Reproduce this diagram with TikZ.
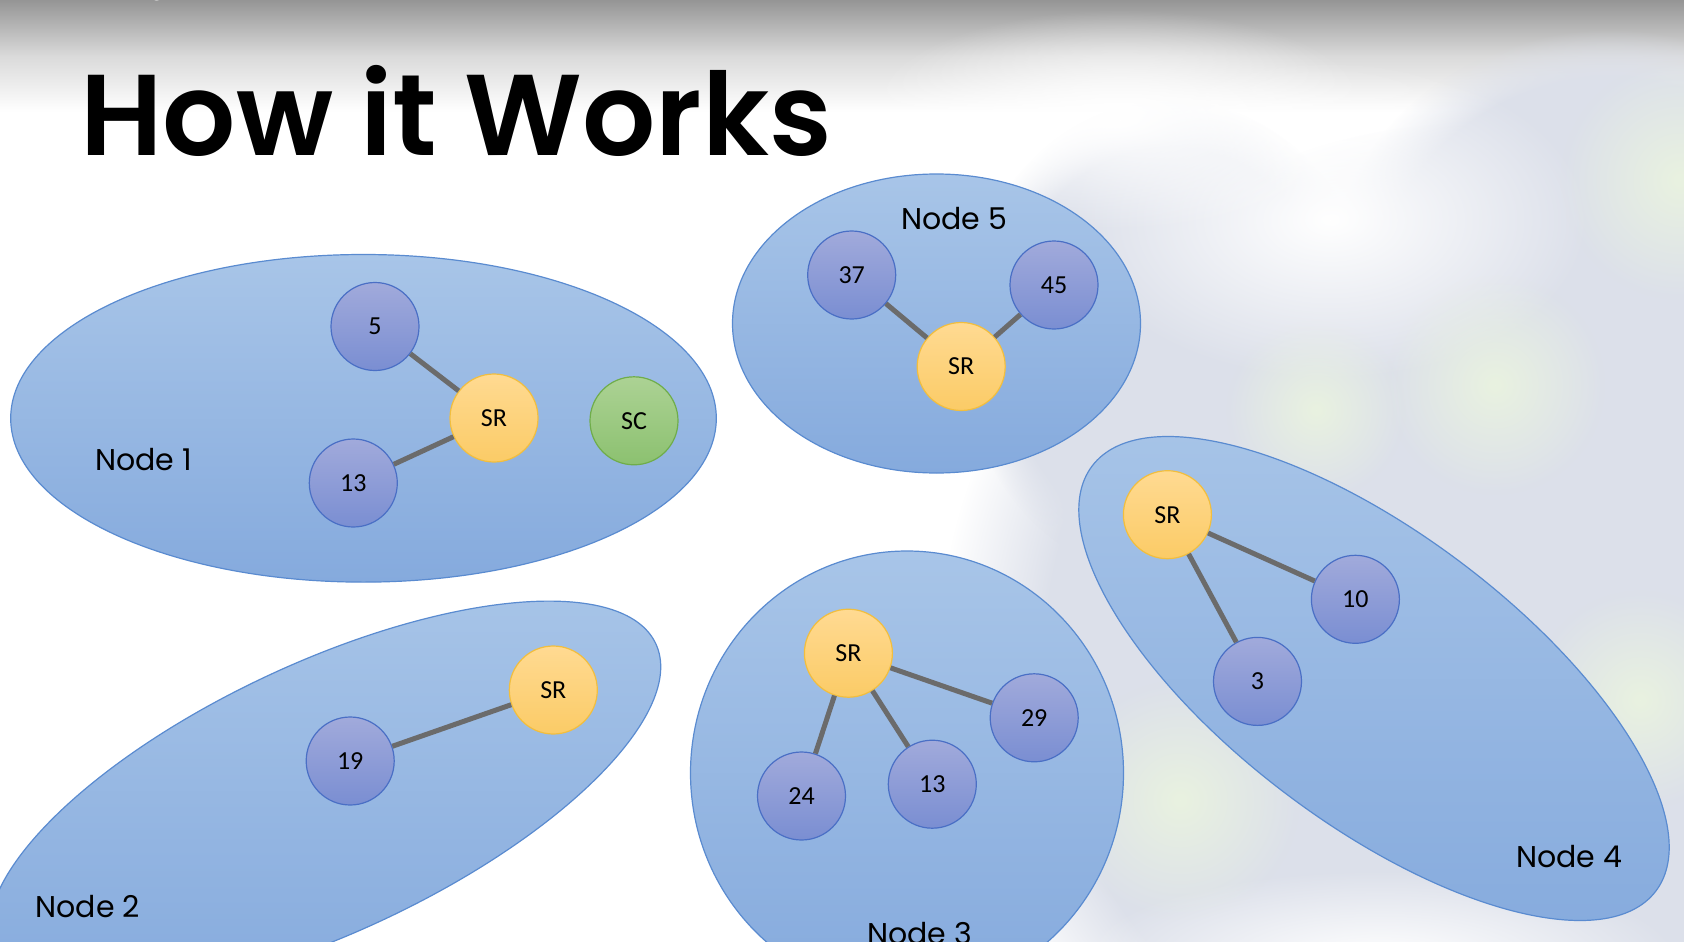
\documentclass[tikz,border=0pt]{standalone}
\usepackage{fontspec}
\usetikzlibrary{shapes.geometric,fadings}
\newfontfamily\titlefont{Poppins}
\newfontfamily\headfont{Poppins SemiBold}
\newfontfamily\calibrifont{Carlito}

\definecolor{grptop}{HTML}{A8C5E8}
\definecolor{grpbot}{HTML}{85AADD}
\definecolor{grpline}{HTML}{5A8BD0}
\definecolor{numtop}{HTML}{A1AADB}
\definecolor{numbot}{HTML}{7A8ED2}
\definecolor{numline}{HTML}{4A6FC5}
\definecolor{srtop}{HTML}{FFDA92}
\definecolor{srbot}{HTML}{FBCB66}
\definecolor{srline}{HTML}{F2BE3E}
\definecolor{sctop}{HTML}{ACD294}
\definecolor{scbot}{HTML}{8CC170}
\definecolor{scline}{HTML}{6FAD4A}
\definecolor{linkgray}{HTML}{6B6B6B}
\definecolor{haze}{HTML}{DCE0EA}
\definecolor{palegreen}{HTML}{E9F2E0}
\definecolor{bandgray}{HTML}{959595}

\tikzfading[name=softblob, inner color=transparent!0, outer color=transparent!100]

\tikzset{
  grp/.style={ellipse, inner sep=0pt, draw=grpline, line width=1.2pt,
    top color=grptop, bottom color=grpbot},
  num/.style={circle, minimum size=88pt, inner sep=0pt, draw=numline,
    line width=1.2pt, top color=numtop, bottom color=numbot,
    font=\calibrifont\fontsize{26}{26}\selectfont},
  sr/.style={num, draw=srline, top color=srtop, bottom color=srbot},
  sc/.style={num, draw=scline, top color=sctop, bottom color=scbot},
  link/.style={draw=linkgray, line width=5pt},
  grplabel/.style={anchor=base west, inner sep=0pt,
    font=\titlefont\fontsize{30}{30}\selectfont},
}

\begin{document}
\begin{tikzpicture}[x=1pt,y=-1pt]
\useasboundingbox (0,0) rectangle (1684,942);
\clip (0,0) rectangle (1684,942);
\fill[white] (0,0) rectangle (1684,942);

% grey band along the top edge
\shade[top color=bandgray, bottom color=white, middle color=bandgray!35] (0,0) rectangle (1684,112);

% blurred backdrop on the right
\fill[haze, path fading=circle with fuzzy edge 20 percent] (1480,660) ellipse [x radius=540pt, y radius=540pt];
\fill[haze, path fading=circle with fuzzy edge 20 percent] (1170,340) ellipse [x radius=210pt, y radius=240pt];
\fill[haze, path fading=circle with fuzzy edge 20 percent] (1610,280) ellipse [x radius=280pt, y radius=250pt];
\fill[white, path fading=softblob] (1330,220) ellipse [x radius=260pt, y radius=160pt];
\fill[white, path fading=softblob] (1120,120) ellipse [x radius=260pt, y radius=110pt];
\fill[white, path fading=softblob] (1380,960) ellipse [x radius=300pt, y radius=90pt];
\fill[palegreen, path fading=softblob] (1495,385) circle (110pt);
\fill[palegreen, path fading=softblob] (1316,410) circle (90pt);
\fill[palegreen, path fading=softblob] (1680,180) circle (120pt);
\fill[palegreen, path fading=softblob] (1180,800) circle (120pt);
\fill[palegreen, path fading=softblob] (1640,700) circle (110pt);

\node[anchor=base, inner sep=0pt, text=white, font=\titlefont\fontsize{20}{20}\selectfont] (cut) at (157,-4) {g};

% title
\node[anchor=base west, inner sep=0pt, font=\headfont\fontsize{115}{115}\selectfont] (title) at (80,155.7) {How it Works};

% machine groups
\node[grp, minimum width=705.6pt, minimum height=327.6pt] (n1) at (363.5,418.3) {};
\node[grp, minimum width=408pt, minimum height=299pt] (n5) at (936.5,323.5) {};
\node[grp, minimum width=730pt, minimum height=270pt, rotate=25] (n2) at (325,798) {};
\node[grp, minimum width=433pt, minimum height=444pt] (n3) at (907,773) {};
\node[grp, minimum width=706pt, minimum height=290pt, rotate=-37] (n4) at (1374,678.5) {};

\node[grplabel] (l1) at (95,470.7) {Node 1};
\node[grplabel] (l5) at (901,229) {Node 5};
\node[grplabel] (l2) at (35.5,917.5) {Node 2};
\node[grplabel] (l3) at (867,944) {Node 3};
\node[grplabel] (l4) at (1516,867.5) {Node 4};

% Node 1
\node[num] (a5) at (375,326.5) {5};
\node[sr] (a0) at (494,418) {SR};
\node[num] (a13) at (353.3,483) {13};
\node[sc] (asc) at (634,420.8) {SC};
\draw[link] (a5) -- (a0);
\draw[link] (a13) -- (a0);

% Node 5
\node[num] (e37) at (851.7,275) {37};
\node[num] (e45) at (1054,285) {45};
\node[sr] (e0) at (961.2,366.5) {SR};
\draw[link] (e37) -- (e0);
\draw[link] (e45) -- (e0);

% Node 2
\node[sr] (b0) at (553.3,690) {SR};
\node[num] (b19) at (350.2,761) {19};
\draw[link] (b19) -- (b0);

% Node 3
\node[sr] (c0) at (848.4,653.2) {SR};
\node[num] (c24) at (801.5,796) {24};
\node[num] (c13) at (932.3,784.2) {13};
\node[num] (c29) at (1034.2,717.8) {29};
\draw[link] (c0) -- (c24);
\draw[link] (c0) -- (c13);
\draw[link] (c0) -- (c29);

% Node 4
\node[sr] (d0) at (1167.4,514.7) {SR};
\node[num] (d10) at (1355.4,599.3) {10};
\node[num] (d3) at (1257.5,681.4) {3};
\draw[link] (d0) -- (d10);
\draw[link] (d0) -- (d3);
\end{tikzpicture}
\end{document}
